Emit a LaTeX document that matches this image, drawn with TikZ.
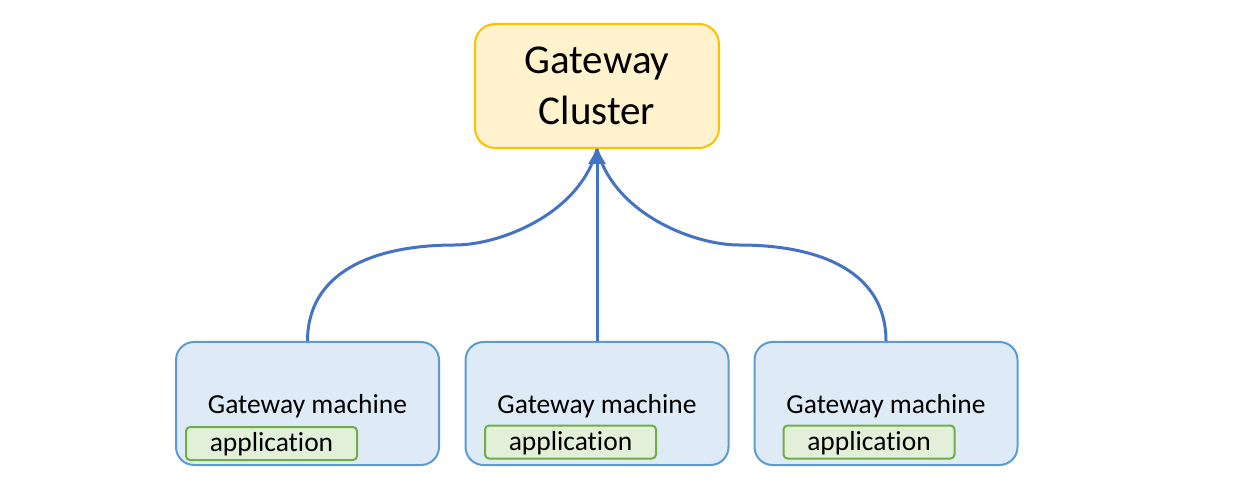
\documentclass[tikz,border=0pt]{standalone}
\usepackage{fontspec}
\setmainfont{Carlito}[Ligatures=NoCommon]
\usepackage{tikz}
\usetikzlibrary{arrows.meta,positioning}

\definecolor{clusterfill}{HTML}{FFF2CC}
\definecolor{clusterdraw}{HTML}{FFC000}
\definecolor{machinefill}{HTML}{DEEBF7}
\definecolor{machinedraw}{HTML}{5B9BD5}
\definecolor{appfill}{HTML}{E2F0D9}
\definecolor{appdraw}{HTML}{70AD47}
\definecolor{linkcolor}{HTML}{4472C4}

\begin{document}
\begin{tikzpicture}[x=1pt,y=1pt]
  \tikzset {
    cluster/.style={
      rectangle,
      rounded corners=20pt,
      draw=clusterdraw,
      fill=clusterfill,
      line width=2pt,
      minimum width=244pt,
      minimum height=124pt,
      inner sep=0pt,
      align=center,
      font=\fontsize{41}{51}\selectfont
    },
    machine/.style={
      rectangle,
      rounded corners=18pt,
      draw=machinedraw,
      fill=machinefill,
      line width=2pt,
      minimum width=263pt,
      minimum height=123pt,
      inner sep=0pt
    },
    machinetext/.style={
      anchor=base,
      inner sep=0pt,
      font=\fontsize{27.5}{33}\selectfont
    },
    app/.style={
      rectangle,
      rounded corners=4pt,
      draw=appdraw,
      fill=appfill,
      line width=2pt,
      minimum width=171pt,
      minimum height=33pt,
      inner sep=0pt,
      text height=19pt,
      text depth=3pt,
      text centered,
      font=\fontsize{27.5}{33}\selectfont
    },
    link/.style={
      draw=linkcolor,
      line width=3pt
    }
  }
  \useasboundingbox (0,0) rectangle (1241,482);

  \node[cluster](cluster) at (597,396) {Gateway\\Cluster};
  \node[machine](machine1) at (307.5,78.5) {};
  \node[machine, right of=machine1, node distance=289.5pt](machine2) {};
  \node[machine, right of=machine2, node distance=289pt](machine3) {};

  \node[machinetext] at ([yshift=-9.5pt]machine1.center) {Gateway machine};
  \node[machinetext] at ([yshift=-9.5pt]machine2.center) {Gateway machine};
  \node[machinetext] at ([yshift=-9.5pt]machine3.center) {Gateway machine};

  \node[app](app1) at (271.5,38.5) {application};
  \node[app](app2) at (570.5,40) {application};
  \node[app](app3) at (869,40) {application};

  \draw[link] (machine1.north) .. controls +(0,67) and +(-85,0) .. (455,237)
    .. controls +(45,0) and +(-17,-65) .. (cluster.south);
  \draw[link] (machine3.north) .. controls +(0,67) and +(85,0) .. (739,237)
    .. controls +(-45,0) and +(17,-65) .. (cluster.south);
  \draw[link,-{Triangle[length=15pt,width=17pt]}] (machine2.north) -- (cluster.south);

\end{tikzpicture}
\end{document}
